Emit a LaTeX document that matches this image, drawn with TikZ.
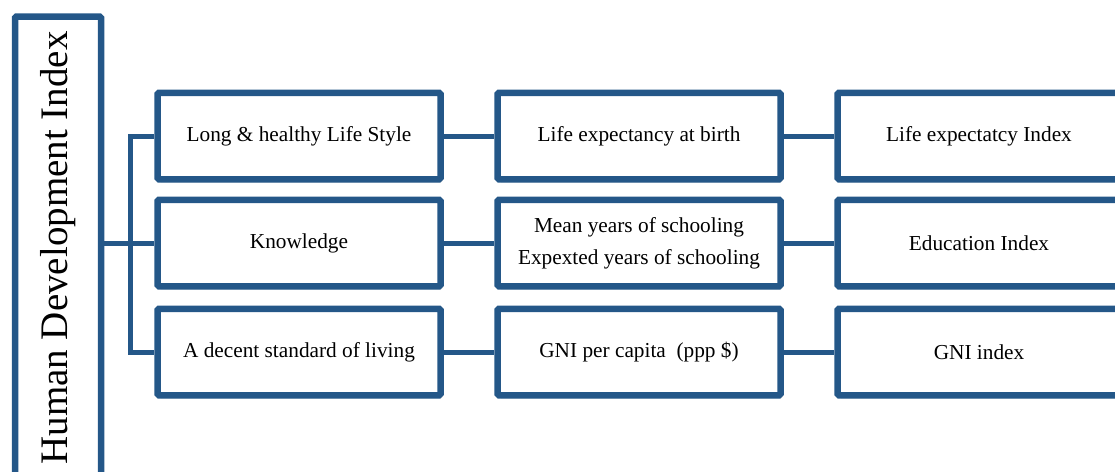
\documentclass[tikz,border=0pt]{standalone}
\usepackage{fontspec}
\setmainfont{Liberation Serif}
\usepackage{xcolor}
\usetikzlibrary{shadows}
\definecolor{hdiblue}{RGB}{36,87,136}

\begin{document}
\begin{tikzpicture}[x=1pt, y=-1pt,
    box/.style={draw=hdiblue, fill=white, line width=6.5pt, rounded corners=1.5pt,
      minimum width=283pt, minimum height=86.5pt, inner sep=0pt, align=center,
      font=\fontsize{21.3}{32}\selectfont,
      drop shadow={shadow xshift=2pt, shadow yshift=-3pt, opacity=.35}},
    link/.style={draw=hdiblue, line width=5pt}]
    \useasboundingbox (0,0) rectangle (1115,471);
    \clip (0,0) rectangle (1115,471);

    \coordinate (H) at (58,248);
    \coordinate (fork) at (130.5,243);

    \coordinate (C1R1) at (299,136);
    \coordinate (C1R2) at (299,243);
    \coordinate (C1R3) at (299,352);
    \coordinate (C2R1) at (639,136);
    \coordinate (C2R2) at (639,243);
    \coordinate (C2R3) at (639,352);
    \coordinate (C3R1) at (979,136);
    \coordinate (C3R2) at (979,243);
    \coordinate (C3R3) at (979,352);

    \node (hdi) at (H) [box, rotate=90, minimum width=463pt, minimum height=86pt,
      font=\fontsize{39}{42}\selectfont]{Human Development Index};

    \node (life) at (C1R1) [box]{Long \& healthy Life Style};
    \node (know) at (C1R2) [box]{Knowledge};
    \node (living) at (C1R3) [box]{A decent standard of living};

    \node (birth) at (C2R1) [box]{Life expectancy at birth};
    \node (school) at (C2R2) [box]{Mean years of schooling\\Expexted years of schooling};
    \node (gni) at (C2R3) [box]{GNI per capita~~(ppp \$)};

    \node (lifeidx) at (C3R1) [box]{Life expectatcy Index};
    \node (eduidx) at (C3R2) [box]{Education Index};
    \node (gniidx) at (C3R3) [box]{GNI index};

    \draw[link] (hdi.south |- fork) -- (fork) -- (know.west);
    \draw[link] (life.west) -- (life.west -| fork) -- (living.west -| fork) -- (living.west);

    \draw[link] (life.east) -- (birth.west);
    \draw[link] (know.east) -- (school.west);
    \draw[link] (living.east) -- (gni.west);
    \draw[link] (birth.east) -- (lifeidx.west);
    \draw[link] (school.east) -- (eduidx.west);
    \draw[link] (gni.east) -- (gniidx.west);
  \end{tikzpicture}
\end{document}
